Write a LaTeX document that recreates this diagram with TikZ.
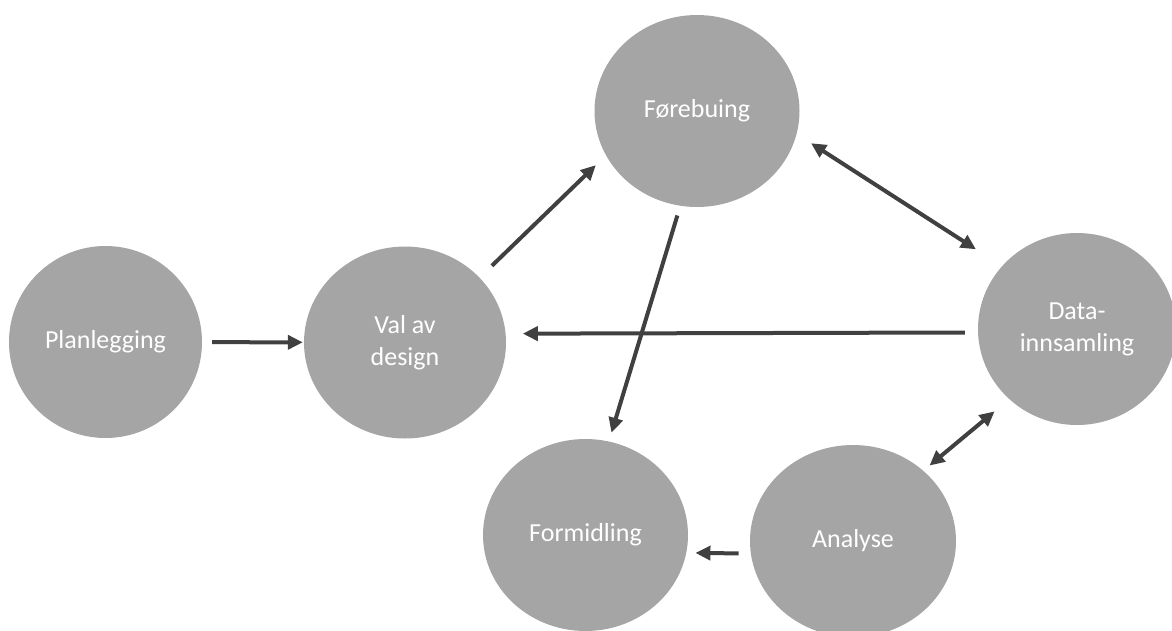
\documentclass[tikz,border=0pt]{standalone}
\usepackage{fontspec}
\setmainfont{Carlito}
\usetikzlibrary{arrows.meta,shapes.geometric}
\definecolor{phaseGray}{RGB}{165,165,165}
\definecolor{phaseDark}{RGB}{64,64,64}

\begin{document}
\begin{tikzpicture}[x=1pt,y=-1pt,
      blob/.style={ellipse,fill=phaseGray,minimum width=205pt,minimum height=192pt,inner sep=0pt,align=center,text=white,font=\fontsize{26}{32}\selectfont},
      arr/.style={-{Triangle[length=15pt,width=14pt]},phaseDark,line width=4pt},
      both/.style={{Triangle[length=15pt,width=14pt]}-{Triangle[length=15pt,width=14pt]},phaseDark,line width=4pt}]
    \useasboundingbox (0,0) rectangle (1172,630);
    \node[blob,minimum width=193pt] (pl) at (105.5,342) {Planlegging};
    \node[blob,minimum width=202pt] (va) at (405,342.5) {Val av\\design};
    \node[blob] (fo) at (697,111) {Førebuing};
    \node[blob,minimum width=198pt] (da) at (1077,329) {Data-\\innsamling};
    \node[blob] (fm) at (585.5,535) {Formidling};
    \node[blob,minimum width=206pt] (an) at (853,541) {Analyse};
    \draw[arr,shorten <=10pt,shorten >=1pt] (pl) -- (va);
    \draw[arr,shorten <=17pt,shorten >=14pt] (va.41) -- (fo.206);
    \draw[arr,shorten <=13pt,shorten >=17pt] (da.182) -- (va.5.5);
    \draw[arr,shorten <=10pt,shorten >=9pt] (fo.260) -- (fm.76);
    \draw[both,shorten <=17pt,shorten >=31pt] (fo.-13) -- (da.140);
    \draw[both,shorten <=19pt,shorten >=8pt] (da.226) -- (an.45);
    \draw[arr,shorten <=12pt,shorten >=9pt] (an.187) -- (fm.-10);
  \end{tikzpicture}
\end{document}
